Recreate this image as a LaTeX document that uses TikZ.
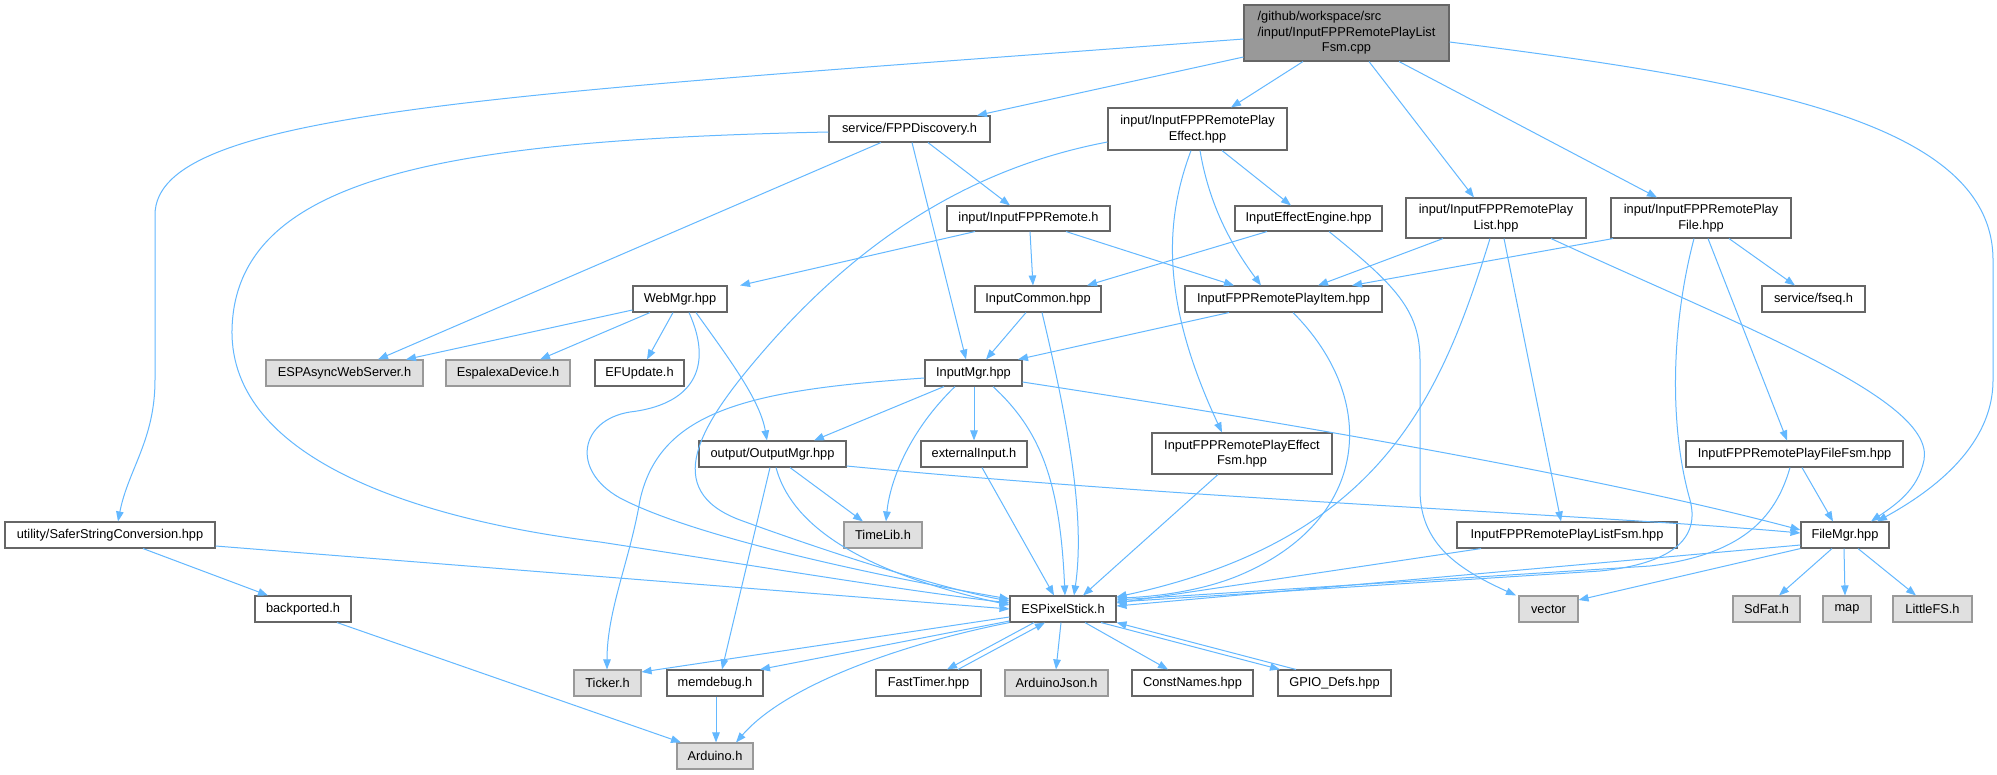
\documentclass[tikz,border=0pt]{standalone}
\usepackage{fontspec}
\setmainfont{Liberation Sans}
\usetikzlibrary{arrows.meta}
\definecolor{edgec}{HTML}{63B8FF}
\definecolor{boxborder}{HTML}{666666}
\definecolor{sysborder}{HTML}{999999}
\definecolor{sysfill}{HTML}{E0E0E0}
\definecolor{mainfill}{HTML}{999999}
\newcommand\mkbox[7]{\node[#1, minimum width={(#4)-(#3)}, minimum height={(#6)-(#5)}] (#2) at ({((#3)+(#4))/2},{((#5)+(#6))/2}) {#7};}
\begin{document}
\begin{tikzpicture}[x=1pt,y=-1pt,
  box/.style={draw=boxborder, fill=white, line width=1.1pt, inner sep=0pt, align=center, text=black,
    font=\fontsize{12.8}{15.5}\selectfont},
  sys/.style={box, draw=sysborder, fill=sysfill},
  mainbox/.style={box, fill=mainfill},
  edge/.style={draw=edgec, line width=1pt, -{Triangle[length=10pt,width=7.5pt]}, fill=none}]
\fill[white] (0,0) rectangle (1997,774);
\useasboundingbox (0,0) rectangle (1997,774);
% nodes
\mkbox{mainbox}{main}{1244}{1449}{5}{61}{\begin{tabular}{@{}l@{}}/github/workspace/src\\/input/InputFPPRemotePlayList\\\multicolumn{1}{@{}c@{}}{Fsm.cpp}\end{tabular}}
\mkbox{box}{fppdisc}{829}{990}{116}{142}{service/FPPDiscovery.h}
\mkbox{box}{playeffect}{1108}{1287}{108}{150}{input/InputFPPRemotePlay\\Effect.hpp}
\mkbox{box}{playlist}{1406}{1586}{198}{238}{input/InputFPPRemotePlay\\List.hpp}
\mkbox{box}{playfile}{1611}{1791}{198}{238}{input/InputFPPRemotePlay\\File.hpp}
\mkbox{box}{fppremote}{947}{1110}{206}{231}{input/InputFPPRemote.h}
\mkbox{box}{effengine}{1235}{1382}{206}{231}{InputEffectEngine.hpp}
\mkbox{box}{webmgr}{633}{727}{286}{312}{WebMgr.hpp}
\mkbox{box}{inputcommon}{975}{1101}{286}{312}{InputCommon.hpp}
\mkbox{box}{playitem}{1185}{1382}{286}{312}{InputFPPRemotePlayItem.hpp}
\mkbox{box}{fseq}{1762}{1865}{286}{312}{service/fseq.h}
\mkbox{sys}{espasync}{266}{423}{360}{386}{ESPAsyncWebServer.h}
\mkbox{sys}{espalexa}{446}{570}{360}{386}{EspalexaDevice.h}
\mkbox{box}{efupdate}{595}{684}{360}{386}{EFUpdate.h}
\mkbox{box}{inputmgr}{925}{1022}{360}{386}{InputMgr.hpp}
\mkbox{box}{outputmgr}{699}{846}{441}{467}{output/OutputMgr.hpp}
\mkbox{box}{extinput}{921}{1027}{441}{467}{externalInput.h}
\mkbox{box}{playeffectfsm}{1152}{1332}{433}{474}{InputFPPRemotePlayEffect\\Fsm.hpp}
\mkbox{box}{playfilefsm}{1686}{1903}{441}{467}{InputFPPRemotePlayFileFsm.hpp}
\mkbox{box}{safer}{5}{215}{522}{548}{utility/SaferStringConversion.hpp}
\mkbox{sys}{timelib}{844}{922}{522}{548}{TimeLib.h}
\mkbox{box}{playlistfsm}{1457}{1677}{522}{548}{InputFPPRemotePlayListFsm.hpp}
\mkbox{box}{filemgr}{1801}{1889}{522}{548}{FileMgr.hpp}
\mkbox{box}{backported}{255}{351}{596}{622}{backported.h}
\mkbox{box}{esps}{1010}{1116}{596}{622}{ESPixelStick.h}
\mkbox{sys}{vector}{1519}{1578}{596}{622}{vector}
\mkbox{sys}{sdfat}{1733}{1800}{596}{622}{SdFat.h}
\mkbox{sys}{map}{1823}{1871}{596}{622}{map}
\mkbox{sys}{littlefs}{1893}{1972}{596}{622}{LittleFS.h}
\mkbox{sys}{ticker}{574}{641}{670}{696}{Ticker.h}
\mkbox{box}{memdebug}{667}{763}{670}{696}{memdebug.h}
\mkbox{box}{fasttimer}{876}{981}{670}{696}{FastTimer.hpp}
\mkbox{sys}{arduinojson}{1005}{1108}{670}{696}{ArduinoJson.h}
\mkbox{box}{constnames}{1132}{1253}{670}{696}{ConstNames.hpp}
\mkbox{box}{gpio}{1278}{1391}{670}{696}{GPIO\_Defs.hpp}
\mkbox{sys}{arduino}{677}{753}{743}{769}{Arduino.h}
% edges from main
\draw[edge] (main.west |- 0,39) .. controls (500,95) and (155,110) .. (155,215) -- (155,380) .. controls (155,440) and (128,470) .. (safer.north -| 118,0);
\draw[edge] (main.west |- 0,57) -- (fppdisc.north -| 977,0);
\draw[edge] (main.south -| 1303,0) -- (playeffect.north -| 1231,0);
\draw[edge] (main.south -| 1369,0) -- (playlist.north -| 1474,0);
\draw[edge] (main.south -| 1399,0) -- (playfile.north -| 1657,0);
\draw[edge] (main.east |- 0,42) .. controls (1750,80) and (1993,120) .. (1993,260) -- (1993,380) .. controls (1993,450) and (1925,495) .. (filemgr.north -| 1877,0);
% fppdisc
\draw[edge] (fppdisc.west |- 0,132) .. controls (450,140) and (235,175) .. (232,330) .. controls (230,460) and (420,520) .. (600,542) .. controls (750,565) and (900,590) .. (esps.west |- 0,603);
\draw[edge] (fppdisc.south -| 881,0) -- (espasync.north -| 378,0);
\draw[edge] (fppdisc.south -| 912,0) -- (inputmgr.north -| 966,0);
\draw[edge] (fppdisc.south -| 928,0) -- (fppremote.north -| 1010,0);
% playeffect
\draw[edge] (playeffect.west |- 0,142) .. controls (960,170) and (850,250) .. (760,355) .. controls (700,425) and (660,490) .. (740,520) .. controls (850,560) and (950,590) .. (esps.west |- 0,601);
\draw[edge] (playeffect.south -| 1191,0) .. controls (1165,220) and (1160,300) .. (playeffectfsm.north -| 1222,0);
\draw[edge] (playeffect.south -| 1200,0) .. controls (1210,210) and (1235,250) .. (playitem.north -| 1261,0);
\draw[edge] (playeffect.south -| 1222,0) -- (effengine.north -| 1291,0);
% playlist
\draw[edge] (playlist.south -| 1443,0) -- (playitem.north -| 1318,0);
\draw[edge] (playlist.south -| 1490,0) .. controls (1440,400) and (1380,540) .. (esps.east |- 0,597);
\draw[edge] (playlist.south -| 1504,0) -- (playlistfsm.north -| 1561,0);
\draw[edge] (playlist.south -| 1551,0) .. controls (1750,330) and (1935,400) .. (1924,460) .. controls (1918,490) and (1895,505) .. (filemgr.north -| 1871,0);
% playfile
\draw[edge] (playfile.south -| 1613,0) -- (playitem.north -| 1352,0);
\draw[edge] (playfile.south -| 1694,0) .. controls (1670,330) and (1670,430) .. (1690,500) .. controls (1702,545) and (1660,565) .. (1600,571) -- (esps.east |- 0,602);
\draw[edge] (playfile.south -| 1708,0) -- (playfilefsm.north -| 1787,0);
\draw[edge] (playfile.south -| 1729,0) -- (fseq.north -| 1795,0);
% fppremote
\draw[edge] (fppremote.south -| 975,0) -- (webmgr.north -| 740,0);
\draw[edge] (fppremote.south -| 1030,0) -- (inputcommon.north -| 1033,0);
\draw[edge] (fppremote.south -| 1066,0) -- (playitem.north -| 1234,0);
% effengine
\draw[edge] (effengine.south -| 1267,0) -- (inputcommon.north -| 1087,0);
\draw[edge] (effengine.south -| 1329,0) .. controls (1395,285) and (1420,310) .. (1420,360) -- (1420,490) .. controls (1420,545) and (1460,570) .. (vector.north -| 1516,0);
% webmgr
\draw[edge] (webmgr.west |- 0,310) -- (espasync.north -| 406,0);
\draw[edge] (webmgr.south -| 650,0) -- (espalexa.north -| 540,0);
\draw[edge] (webmgr.south -| 673,0) -- (efupdate.north -| 647,0);
\draw[edge] (webmgr.south -| 689,0) .. controls (715,370) and (690,405) .. (630,412) .. controls (580,420) and (570,470) .. (620,498) .. controls (700,540) and (900,580) .. (esps.west |- 0,599);
\draw[edge] (webmgr.south -| 696,0) .. controls (730,360) and (760,400) .. (outputmgr.north -| 767,0);
% inputcommon
\draw[edge] (inputcommon.south -| 1026,0) -- (inputmgr.north -| 986,0);
\draw[edge] (inputcommon.south -| 1042,0) .. controls (1070,430) and (1085,520) .. (esps.north -| 1074,0);
% playitem
\draw[edge] (playitem.south -| 1229,0) -- (inputmgr.north -| 1018,0);
\draw[edge] (playitem.south -| 1293,0) .. controls (1380,400) and (1370,520) .. (1240,575) .. controls (1200,592) and (1150,597) .. (esps.east |- 0,598);
% inputmgr
\draw[edge] (inputmgr.west |- 0,378) .. controls (750,390) and (660,410) .. (640,500) .. controls (630,560) and (607,610) .. (ticker.north -| 607,0);
\draw[edge] (inputmgr.south -| 944,0) -- (outputmgr.north -| 814,0);
\draw[edge] (inputmgr.south -| 955,0) .. controls (910,430) and (890,480) .. (timelib.north -| 886,0);
\draw[edge] (inputmgr.south -| 974,0) -- (extinput.north -| 974,0);
\draw[edge] (inputmgr.south -| 993,0) .. controls (1040,430) and (1060,480) .. (esps.north -| 1065,0);
\draw[edge] (inputmgr.east |- 0,382) .. controls (1400,440) and (1650,490) .. (filemgr.west |- 0,530);
% outputmgr
\draw[edge] (outputmgr.east |- 0,466) .. controls (1200,500) and (1600,515) .. (filemgr.west |- 0,533);
\draw[edge] (outputmgr.south -| 770,0) -- (memdebug.north -| 722,0);
\draw[edge] (outputmgr.south -| 776,0) .. controls (790,520) and (850,570) .. (esps.west |- 0,605);
\draw[edge] (outputmgr.south -| 790,0) -- (timelib.north -| 863,0);
% other middle nodes
\draw[edge] (extinput.south -| 982,0) -- (esps.north -| 1054,0);
\draw[edge] (playeffectfsm.south -| 1218,0) -- (esps.north -| 1083,0);
\draw[edge] (playfilefsm.south -| 1790,0) .. controls (1775,520) and (1740,555) .. (1650,566) -- (esps.east |- 0,600);
\draw[edge] (playfilefsm.south -| 1802,0) -- (filemgr.north -| 1833,0);
\draw[edge] (safer.east |- 0,546) -- (esps.west |- 0,609);
\draw[edge] (safer.south -| 143,0) -- (backported.north -| 268,0);
\draw[edge] (backported.south -| 337,0) -- (arduino.north -| 681,0);
\draw[edge] (playlistfsm.south -| 1481,0) -- (esps.east |- 0,603);
% filemgr
\draw[edge] (filemgr.west |- 0,545) -- (esps.east |- 0,606);
\draw[edge] (filemgr.south west) -- (vector.east |- 0,600);
\draw[edge] (filemgr.south -| 1832,0) -- (sdfat.north -| 1779,0);
\draw[edge] (filemgr.south -| 1844,0) -- (map.north -| 1845,0);
\draw[edge] (filemgr.south -| 1858,0) -- (littlefs.north -| 1916,0);
% esps
\draw[edge] (esps.west |- 0,617) -- (ticker.east |- 0,672);
\draw[edge] (esps.west |- 0,621) -- (memdebug.north -| 760,0);
\draw[edge] (esps.south west) .. controls (920,640) and (790,680) .. (arduino.north -| 736,0);
\draw[edge] (esps.south -| 1034,0) -- (fasttimer.north -| 947,0);
\draw[edge] (fasttimer.north -| 958,0) -- (esps.south -| 1045,0);
\draw[edge] (esps.south -| 1061,0) -- (arduinojson.north -| 1056,0);
\draw[edge] (esps.south -| 1085,0) -- (constnames.north -| 1168,0);
\draw[edge] (esps.south -| 1101,0) -- (gpio.north -| 1280,0);
\draw[edge] (gpio.north -| 1296,0) -- (esps.south east);
\draw[edge] (memdebug.south -| 716,0) -- (arduino.north -| 716,0);
\end{tikzpicture}
\end{document}
